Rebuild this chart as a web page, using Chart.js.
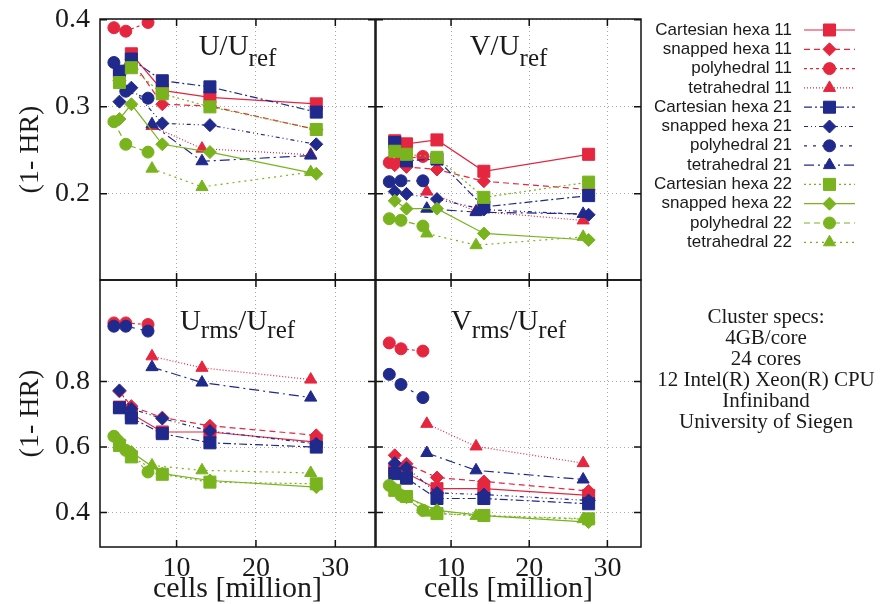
<!DOCTYPE html>
<html>
<head>
<meta charset="utf-8">
<script src="https://cdn.jsdelivr.net/npm/chart.js@4.4.0/dist/chart.umd.min.js"></script>
<style>
  html, body { margin: 0; padding: 0; background: #fff; }
  #wrap { position: relative; width: 882px; height: 604px; }
  #wrap canvas { position: absolute; left: 0; top: 0; }
</style>
</head>
<body>
<div id="wrap">
  <canvas id="pU" width="882" height="604"></canvas>
  <canvas id="pV" width="882" height="604"></canvas>
  <canvas id="pUrms" width="882" height="604"></canvas>
  <canvas id="pVrms" width="882" height="604"></canvas>
</div>
<script>
// cells [million] for each mesh family
var cellsCartesian = [2.8, 4.3, 8.2, 14.2, 27.6];
var cellsSnapped = [2.8, 4.3, 8.2, 14.2, 27.6];
var cellsPoly = [2.1, 3.6, 6.4];
var cellsTetra = [6.9, 13.2, 26.9];

var seriesNames = [
  'Cartesian hexa 11', 'snapped hexa 11', 'polyhedral 11', 'tetrahedral 11',
  'Cartesian hexa 21', 'snapped hexa 21', 'polyhedral 21', 'tetrahedral 21',
  'Cartesian hexa 22', 'snapped hexa 22', 'polyhedral 22', 'tetrahedral 22'
];

var xTickValues = [10, 20, 30];
var yTicksTop = [0.2, 0.3, 0.4];
var yTicksBottom = [0.4, 0.6, 0.8];

// U/Uref
var uCart11 = [0.340, 0.361, 0.319, 0.311, 0.3035];
var uSnap11 = [0.330, 0.354, 0.303, 0.301, 0.274];
var uPoly11 = [0.391, 0.387, 0.397];
var uTetra11 = [0.278, 0.252, 0.245];
var uCart21 = [0.341, 0.355, 0.330, 0.323, 0.294];
var uSnap21 = [0.306, 0.322, 0.281, 0.279, 0.257];
var uPoly21 = [0.351, 0.318, 0.310];
var uTetra21 = [0.280, 0.2375, 0.244];
var uCart22 = [0.328, 0.345, 0.315, 0.300, 0.274];
var uSnap22 = [0.286, 0.303, 0.257, 0.248, 0.223];
var uPoly22 = [0.283, 0.257, 0.248];
var uTetra22 = [0.229, 0.208, 0.225];

// V/Uref
var vCart11 = [0.261, 0.2575, 0.262, 0.226, 0.2455];
var vSnap11 = [0.233, 0.231, 0.228, 0.2145, 0.205];
var vPoly11 = [0.236, 0.240, 0.243];
var vTetra11 = [0.2026, 0.180, 0.1695];
var vCart21 = [0.259, 0.238, 0.240, 0.185, 0.198];
var vSnap21 = [0.2026, 0.200, 0.194, 0.182, 0.176];
var vPoly21 = [0.214, 0.215, 0.215];
var vTetra21 = [0.183, 0.179, 0.177];
var vCart22 = [0.249, 0.2455, 0.242, 0.196, 0.2135];
var vSnap22 = [0.192, 0.183, 0.183, 0.1545, 0.147];
var vPoly22 = [0.1715, 0.1696, 0.163];
var vTetra22 = [0.1545, 0.141, 0.1506];

// Urms/Uref
var urCart11 = [0.722, 0.702, 0.646, 0.646, 0.615];
var urSnap11 = [0.770, 0.725, 0.690, 0.665, 0.636];
var urPoly11 = [0.979, 0.979, 0.974];
var urTetra11 = [0.877, 0.842, 0.806];
var urCart21 = [0.720, 0.689, 0.641, 0.613, 0.600];
var urSnap21 = [0.773, 0.717, 0.687, 0.649, 0.610];
var urPoly21 = [0.969, 0.969, 0.954];
var urTetra21 = [0.844, 0.797, 0.751];
var urCart22 = [0.605, 0.570, 0.517, 0.493, 0.488];
var urSnap22 = [0.620, 0.585, 0.519, 0.498, 0.478];
var urPoly22 = [0.633, 0.590, 0.524];
var urTetra22 = [0.544, 0.529, 0.521];

// Vrms/Uref
var vrCart11 = [0.530, 0.520, 0.473, 0.473, 0.4525];
var vrSnap11 = [0.575, 0.549, 0.507, 0.495, 0.466];
var vrPoly11 = [0.918, 0.900, 0.893];
var vrTetra11 = [0.671, 0.602, 0.551];
var vrCart21 = [0.519, 0.505, 0.443, 0.443, 0.427];
var vrSnap21 = [0.551, 0.537, 0.460, 0.455, 0.437];
var vrPoly21 = [0.822, 0.791, 0.751];
var vrTetra21 = [0.582, 0.529, 0.501];
var vrCart22 = [0.468, 0.449, 0.397, 0.391, 0.381];
var vrSnap22 = [0.473, 0.447, 0.407, 0.391, 0.371];
var vrPoly22 = [0.483, 0.4525, 0.407];
var vrTetra22 = [0.400, 0.390, 0.380];

var clusterSpecs = ['Cluster specs:', '4GB/core', '24 cores', '12 Intel(R) Xeon(R) CPU', 'Infiniband', 'University of Siegen'];

var RED = '#e5263f', BLUE = '#1f2a8c', GREEN = '#79b41e';
var INK = '#1a1a1a', GRID = '#a8a8a8';
var SERIF = '"Liberation Serif", "DejaVu Serif", serif';
var SANS = '"Liberation Sans", Arial, sans-serif';

var cellsBySeries = [cellsCartesian, cellsSnapped, cellsPoly, cellsTetra];
var seriesStyle = [
  {color: RED, dash: [], shape: 'rect'},
  {color: RED, dash: [6, 4], shape: 'rectRot'},
  {color: RED, dash: [3, 3], shape: 'circle'},
  {color: RED, dash: [1, 2], shape: 'triangle'},
  {color: BLUE, dash: [8, 3, 2, 3], shape: 'rect'},
  {color: BLUE, dash: [4, 3, 1, 3, 1, 3], shape: 'rectRot'},
  {color: BLUE, dash: [3, 6], shape: 'circle'},
  {color: BLUE, dash: [10, 4, 2, 4], shape: 'triangle'},
  {color: GREEN, dash: [2, 3], shape: 'rect'},
  {color: GREEN, dash: [], shape: 'rectRot'},
  {color: GREEN, dash: [6, 4], shape: 'circle'},
  {color: GREEN, dash: [2, 4], shape: 'triangle'}
];
var pointSize = {rect: 8.5, rectRot: 6.5, circle: 6, triangle: 7};

function makeDatasets(rows) {
  return rows.map(function(vals, i) {
    var st = seriesStyle[i];
    var xs = cellsBySeries[i % 4];
    return {
      label: seriesNames[i],
      data: vals.map(function(v, k) { return {x: xs[k], y: v}; }),
      showLine: true,
      borderColor: st.color,
      backgroundColor: st.color,
      borderWidth: 1.2,
      borderDash: st.dash,
      pointStyle: st.shape,
      pointRadius: pointSize[st.shape],
      pointBackgroundColor: st.color,
      pointBorderColor: st.color,
      pointBorderWidth: 1,
      order: 12 - i
    };
  });
}

// black box with inward tick marks round each panel
var framePlugin = {
  id: 'frame',
  afterDraw: function(chart) {
    var a = chart.chartArea, ctx = chart.ctx;
    var xs = chart.scales.x, ys = chart.scales.y;
    ctx.save();
    ctx.strokeStyle = '#111';
    ctx.lineWidth = 1.5;
    ctx.setLineDash([]);
    ctx.strokeRect(a.left, a.top, a.right - a.left, a.bottom - a.top);
    ctx.beginPath();
    xs.ticks.forEach(function(t) {
      var px = xs.getPixelForValue(t.value);
      ctx.moveTo(px, a.top); ctx.lineTo(px, a.top + 7);
      ctx.moveTo(px, a.bottom); ctx.lineTo(px, a.bottom - 7);
    });
    ys.ticks.forEach(function(t) {
      var py = ys.getPixelForValue(t.value);
      ctx.moveTo(a.left, py); ctx.lineTo(a.left + 7, py);
      ctx.moveTo(a.right, py); ctx.lineTo(a.right - 7, py);
    });
    ctx.stroke();
    ctx.restore();
  }
};

function titlePlugin(parts, dy, subDrop) {
  return {
    id: 'panelTitle',
    afterDraw: function(chart) {
      var ctx = chart.ctx, a = chart.chartArea;
      var mainFont = '29px ' + SERIF, subFont = '25px ' + SERIF;
      ctx.save();
      var widths = parts.map(function(p) {
        ctx.font = p[1] ? subFont : mainFont;
        return ctx.measureText(p[0]).width;
      });
      var total = widths.reduce(function(s, w) { return s + w; }, 0);
      var x = (a.left + a.right) / 2 - total / 2;
      var y = a.top + dy;
      ctx.fillStyle = INK;
      ctx.textAlign = 'left';
      ctx.textBaseline = 'alphabetic';
      parts.forEach(function(p, i) {
        ctx.font = p[1] ? subFont : mainFont;
        ctx.fillText(p[0], x, p[1] ? y + subDrop : y);
        x += widths[i];
      });
      ctx.restore();
    }
  };
}

var legendPlugin = {
  id: 'sideLegend',
  afterDraw: function(chart) {
    var ctx = chart.ctx;
    ctx.save();
    chart.data.datasets.forEach(function(ds, i) {
      var y = 30 + i * 19.3;
      ctx.font = '17px ' + SANS;
      ctx.fillStyle = INK;
      ctx.textAlign = 'right';
      ctx.textBaseline = 'middle';
      ctx.fillText(ds.label, 792, y);
      ctx.strokeStyle = ds.borderColor;
      ctx.lineWidth = 1.2;
      ctx.setLineDash(ds.borderDash);
      ctx.beginPath();
      ctx.moveTo(804, y); ctx.lineTo(855, y);
      ctx.stroke();
      ctx.setLineDash([]);
      ctx.fillStyle = ds.pointBackgroundColor;
      ctx.strokeStyle = ds.pointBorderColor;
      ctx.lineWidth = 1;
      Chart.helpers.drawPoint(ctx, {pointStyle: ds.pointStyle, radius: ds.pointRadius, rotation: 0, borderWidth: 1}, 829.5, y);
    });
    ctx.restore();
  }
};

var specsPlugin = {
  id: 'specs',
  afterDraw: function(chart) {
    var ctx = chart.ctx;
    ctx.save();
    ctx.font = '21px ' + SERIF;
    ctx.fillStyle = INK;
    ctx.textAlign = 'center';
    ctx.textBaseline = 'middle';
    clusterSpecs.forEach(function(line, i) {
      ctx.fillText(line, 766, 317 + i * 21);
    });
    ctx.restore();
  }
};

var panels = [
  {id: 'pU', rows: [uCart11, uSnap11, uPoly11, uTetra11, uCart21, uSnap21, uPoly21, uTetra21, uCart22, uSnap22, uPoly22, uTetra22],
   area: {left: 100, right: 375, top: 19, bottom: 280}, x: [0.35, 35], y: [0.101, 0.401], yTicks: yTicksTop,
   showX: false, showY: true, title: [['U/U', 0], ['ref', 1]], dy: 36, subDrop: 11, extra: []},
  {id: 'pV', rows: [vCart11, vSnap11, vPoly11, vTetra11, vCart21, vSnap21, vPoly21, vTetra21, vCart22, vSnap22, vPoly22, vTetra22],
   area: {left: 376, right: 641, top: 19, bottom: 280}, x: [0.4, 34.3], y: [0.101, 0.401], yTicks: yTicksTop,
   showX: false, showY: false, title: [['V/U', 0], ['ref', 1]], dy: 36, subDrop: 11, extra: [legendPlugin]},
  {id: 'pUrms', rows: [urCart11, urSnap11, urPoly11, urTetra11, urCart21, urSnap21, urPoly21, urTetra21, urCart22, urSnap22, urPoly22, urTetra22],
   area: {left: 100, right: 375, top: 280, bottom: 547}, x: [0.35, 35], y: [0.295, 1.11], yTicks: yTicksBottom,
   showX: true, showY: true, title: [['U', 0], ['rms', 1], ['/U', 0], ['ref', 1]], dy: 50, subDrop: 8, extra: []},
  {id: 'pVrms', rows: [vrCart11, vrSnap11, vrPoly11, vrTetra11, vrCart21, vrSnap21, vrPoly21, vrTetra21, vrCart22, vrSnap22, vrPoly22, vrTetra22],
   area: {left: 376, right: 641, top: 280, bottom: 547}, x: [0.4, 34.3], y: [0.295, 1.11], yTicks: yTicksBottom,
   showX: true, showY: false, title: [['V', 0], ['rms', 1], ['/U', 0], ['ref', 1]], dy: 50, subDrop: 8, extra: [specsPlugin]}
];

function buildPanel(p) {
  var a = p.area;
  return new Chart(document.getElementById(p.id), {
    type: 'scatter',
    data: {datasets: makeDatasets(p.rows)},
    options: {
      responsive: false,
      animation: false,
      devicePixelRatio: 1,
      events: [],
      layout: {padding: {
        left: p.showY ? 0 : a.left,
        right: 882 - a.right,
        top: a.top,
        bottom: p.showX ? 0 : 604 - a.bottom
      }},
      plugins: {legend: {display: false}, tooltip: {enabled: false}},
      scales: {
        x: {
          type: 'linear', min: p.x[0], max: p.x[1],
          afterBuildTicks: function(s) { s.ticks = xTickValues.map(function(v) { return {value: v}; }); },
          afterFit: function(s) {
            s.height = p.showX ? 604 - a.bottom : 0;
            s.paddingLeft = 0; s.paddingRight = 0; s.paddingTop = 0; s.paddingBottom = 0;
          },
          grid: {color: GRID, lineWidth: 1, drawTicks: false},
          border: {display: false, dash: [1, 3]},
          ticks: {display: p.showX, font: {family: SERIF, size: 28}, color: INK, padding: 5, maxRotation: 0,
                  callback: function(v) { return String(v); }},
          title: {display: p.showX, text: 'cells [million]', font: {family: SERIF, size: 30, lineHeight: 1.0}, color: INK,
                  padding: {top: 0, bottom: 0}}
        },
        y: {
          type: 'linear', min: p.y[0], max: p.y[1],
          afterBuildTicks: function(s) { s.ticks = p.yTicks.map(function(v) { return {value: v}; }); },
          afterFit: function(s) {
            s.width = p.showY ? a.left : 0;
            s.paddingLeft = 0; s.paddingRight = 0; s.paddingTop = 0; s.paddingBottom = 0;
          },
          grid: {color: GRID, lineWidth: 1, drawTicks: false},
          border: {display: false, dash: [1, 3]},
          ticks: {display: p.showY, font: {family: SERIF, size: 28}, color: INK, padding: 10,
                  callback: function(v) { return v.toFixed(1); }},
          title: {display: p.showY, text: '(1- HR)', font: {family: SERIF, size: 28}, color: INK,
                  padding: {top: 14, bottom: 0}}
        }
      }
    },
    plugins: [framePlugin, titlePlugin(p.title, p.dy, p.subDrop)].concat(p.extra)
  });
}

panels.forEach(buildPanel);
</script>
</body>
</html>
